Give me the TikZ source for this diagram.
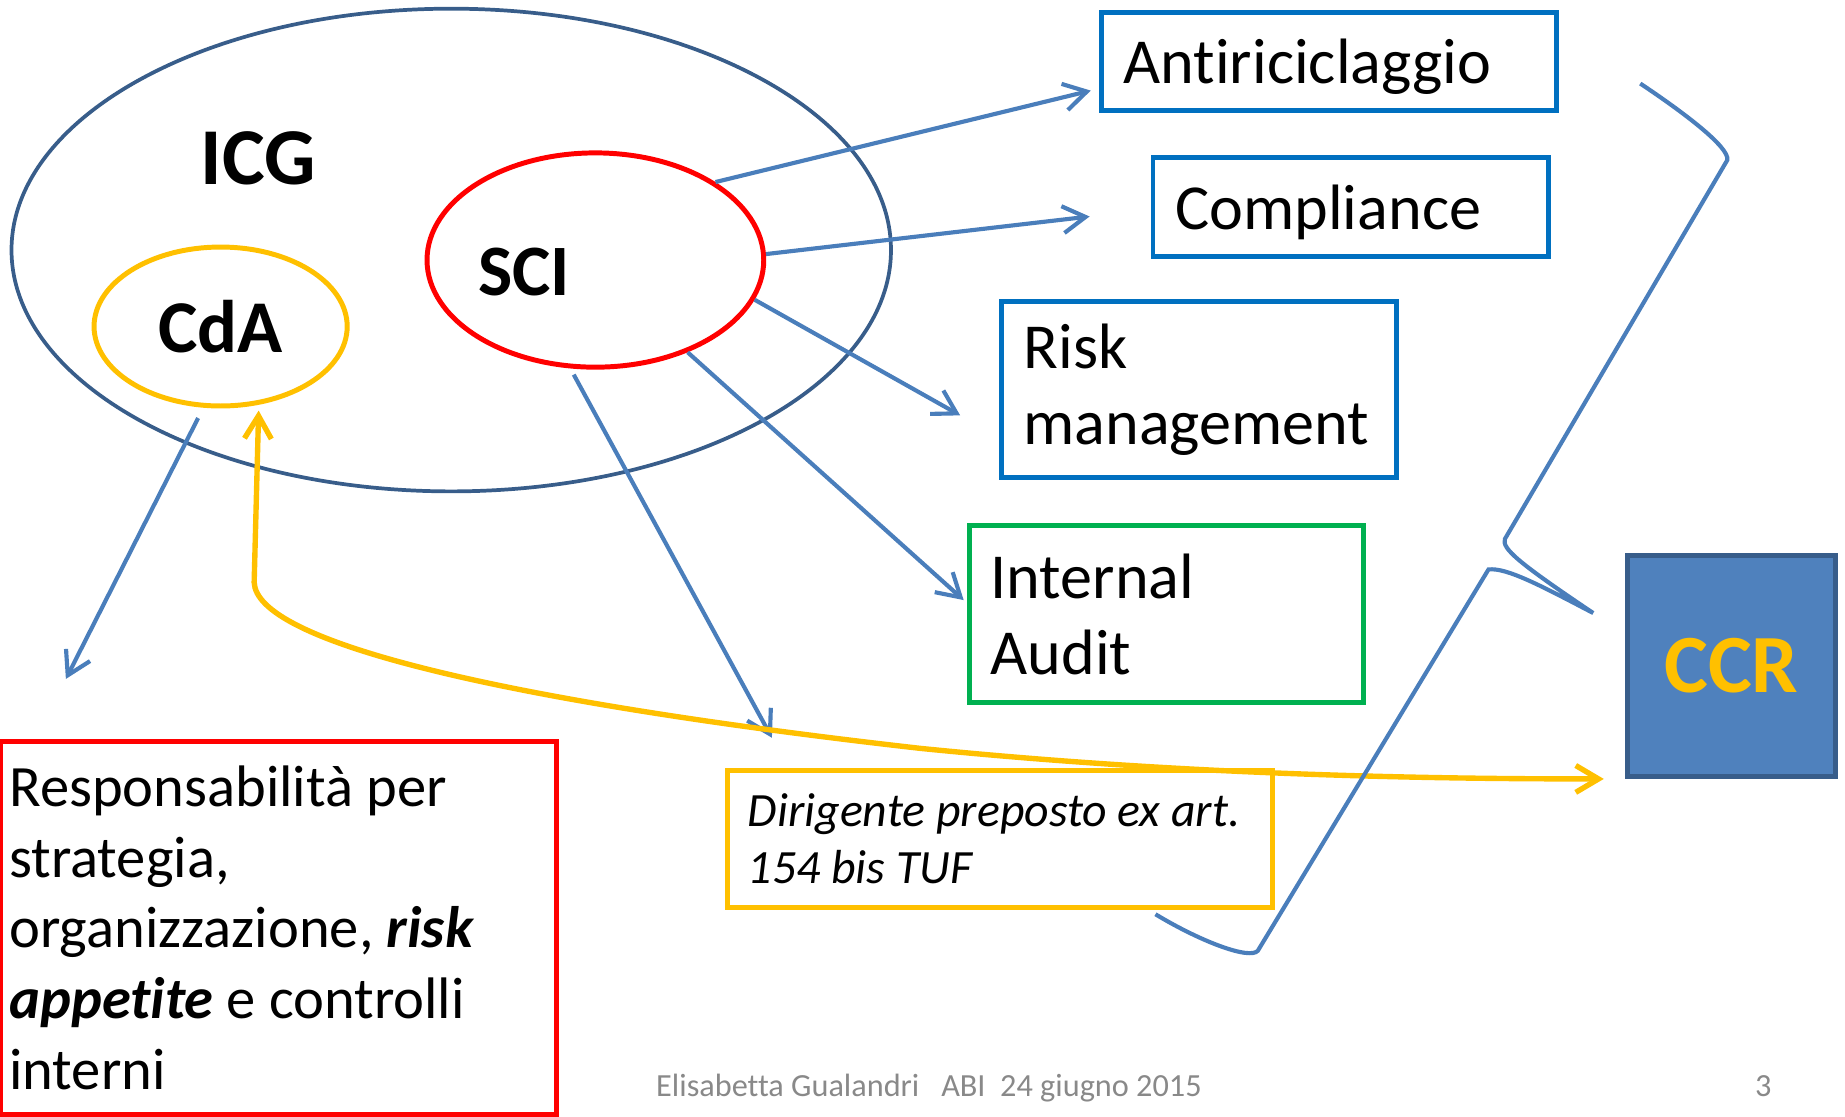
\documentclass[tikz,border=0pt]{standalone}
\usepackage{fontspec}
\setmainfont{Carlito}[Ligatures=NoCommon]
\usetikzlibrary{shapes.geometric,arrows.meta}

\definecolor{icgblue}{HTML}{385D8A}
\definecolor{lineblue}{HTML}{4A7EBB}
\definecolor{boxblue}{HTML}{0070C0}
\definecolor{boxgreen}{HTML}{00B050}
\definecolor{cdayellow}{HTML}{FFC000}
\definecolor{ccrfill}{HTML}{4F81BD}
\definecolor{footgray}{HTML}{898989}

\tikzset{
  funzione/.style={draw=boxblue, line width=1.2pt, inner xsep=0.19cm, inner ysep=0pt,
    align=flush left, font=\fontsize{15.5}{18.35}\selectfont},
  organo/.style={ellipse, line width=1.2pt, inner sep=0pt},
  sigla/.style={anchor=base, font=\bfseries\fontsize{18}{22}\selectfont},
  freccia/.style={draw=lineblue, line width=1pt, -{Straight Barb[length=5.5pt,width=6.5pt]}},
}

\begin{document}
\begin{tikzpicture}[x=0.01cm, y=-0.01cm]
  \useasboundingbox (0,0) rectangle (1568,949);

  \node[organo, draw=icgblue, line width=0.9pt, minimum width=7.47cm, minimum height=4.1cm] (icg) at (383.5,212.5) {};
  \node[sigla, font=\bfseries\fontsize{19.5}{23}\selectfont] (icgtext) at (219.5,156.5) {ICG};
  \node[organo, draw=red, minimum width=2.86cm, minimum height=1.82cm] (sci) at (506,221) {};
  \node[sigla, font=\bfseries\fontsize{17.5}{21}\selectfont] (scitext) at (445.5,251) {SCI};
  \node[organo, draw=cdayellow, minimum width=2.15cm, minimum height=1.35cm,
    font=\bfseries\fontsize{18}{22}\selectfont] (cda) at (187.5,277.5) {CdA};

  \node[funzione, text depth=0pt, minimum width=3.87cm, minimum height=0.835cm, text width=3.49cm] (anti) at (1129.5,52) {Antiriciclaggio};
  \node[funzione, text depth=0pt, minimum width=3.36cm, minimum height=0.84cm, text width=2.98cm] (comp) at (1148,176) {Compliance};
  \node[funzione, minimum width=3.36cm, minimum height=1.5cm, text width=2.98cm] (risk) at (1019,331) {Risk\\management};
  \node[funzione, draw=boxgreen, inner xsep=0.18cm, minimum width=3.35cm, minimum height=1.5cm, text width=2.99cm] (audit) at (991.5,522) {Internal\\Audit};
  \node[funzione, draw=cdayellow, inner xsep=0.17cm, minimum width=4.625cm, minimum height=1.166cm, text width=4.285cm,
    font=\itshape\fontsize{11.55}{13.8}\selectfont] (dir) at (850,713) {Dirigente preposto ex art.\\154 bis TUF};
  \node[funzione, draw=red, inner xsep=0.07cm, minimum width=4.72cm, minimum height=3.17cm, text width=4.58cm,
    font=\fontsize{14.15}{17.07}\selectfont] (resp) at (237,788.5) {Responsabilità per\\strategia,\\organizzazione, \textbf{\textit{risk}}\\\textbf{\textit{appetite}} e controlli\\interni};
  \node[draw=icgblue, fill=ccrfill, line width=1.2pt, minimum width=1.77cm, minimum height=1.88cm,
    text=cdayellow, font=\bfseries\fontsize{20}{24}\selectfont] (ccr) at (1471.5,566) {CCR};

  \coordinate (toanti) at (927,77);
  \coordinate (tocomp) at (926,184);
  \coordinate (torisk) at (816,353);
  \coordinate (toaudit) at (819,510);
  \coordinate (todir) at (656,627);
  \coordinate (toresp) at (56,577);
  \coordinate (toccr) at (1363,662);

  \draw[freccia] (sci.33) -- (toanti);
  \draw[freccia] (sci.2) -- (tocomp);
  \draw[freccia] (sci.-14) -- (torisk);
  \draw[freccia] (sci.-45) -- (toaudit);
  \draw[freccia, shorten <=1.7pt] (sci.-103) -- (todir);
  \draw[freccia, shorten <=2.8pt] (cda.-102) -- (toresp);

  % CdA <-> CCR
  \draw[draw=cdayellow, line width=1.3pt, {Straight Barb[length=5.5pt,width=6.5pt]}-{Straight Barb[length=5.5pt,width=6.5pt]}, shorten >=1.4pt]
    (toccr) .. controls (1200,662) and (1000,658) .. (782,636)
    .. controls (420,595) and (218,545) .. (216,495) -- (cda.-64);

  % graffa verso CCR
  \draw[lineblue, line width=1pt] (1394,71) .. controls (1430,95) and (1470,125) .. (1468,136)
    -- (1279,458) .. controls (1276,466) and (1290,478) .. (1354,521)
    .. controls (1310,498) and (1280,482) .. (1265,484)
    -- (1069,808) .. controls (1062,816) and (1020,800) .. (982,777);

  \node[anchor=base west, inner sep=0pt, text=footgray, font=\fontsize{7.8}{9}\selectfont] (footer) at (557,932) {Elisabetta Gualandri\ \ \ ABI\ \ 24 giugno 2015};
  \node[anchor=base, inner sep=0pt, text=footgray, font=\fontsize{7.8}{9}\selectfont] (pagenum) at (1498.5,932) {3};
\end{tikzpicture}
\end{document}
